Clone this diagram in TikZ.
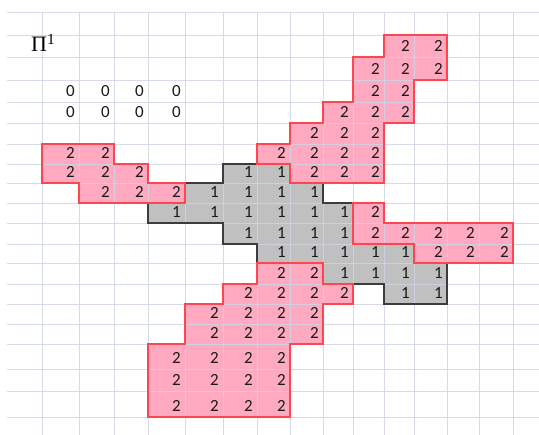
\documentclass[tikz,border=0pt]{standalone}
\usepackage{fontspec}
\setmainfont{Carlito}
\newfontfamily\seriffont{Liberation Serif}
\definecolor{gridc}{RGB}{206,213,228}
\definecolor{pinkf}{RGB}{255,170,192}
\definecolor{redb}{RGB}{255,70,80}
\definecolor{grayf}{RGB}{192,192,192}
\definecolor{grayb}{RGB}{60,60,60}
\begin{document}
\begin{tikzpicture}[x=1pt,y=-1pt,
  num/.style={anchor=base east,font=\fontsize{17}{17}\selectfont,inner sep=0pt,text=black!90},
  gridline/.style={draw=gridc,line width=0.9pt,opacity=0.85},
  pinkarea/.style={fill=pinkf},
  grayarea/.style={fill=grayf},
  pinkedge/.style={draw=redb,line width=1.4pt,line join=miter},
  grayedge/.style={draw=grayb,line width=1.2pt,line join=miter}]
\def\XS{{7,42,79,114,148,185,223,257,290,323,353,384,414,447,479,513,539}}
\def\YS{{12,35,57,80,102,123,144,164,183,203,223,244,263,284,304,324,344,369,391,417}}
\useasboundingbox (0,0) rectangle (539,435);
\fill[white] (0,0) rectangle (539,435);
\foreach \i in {0,...,19}{\foreach \j in {0,...,16}{%
  \pgfmathsetmacro\xx{\XS[\j]}\pgfmathsetmacro\yy{\YS[\i]}%
  \coordinate (p-\i-\j) at (\xx,\yy);}}
% fills
\path[grayarea] (p-7-6) -- (p-7-8) -- (p-8-8) -- (p-8-9) -- (p-9-9) -- (p-9-10) -- (p-11-10) -- (p-11-12) -- (p-12-12) -- (p-12-13) -- (p-14-13) -- (p-14-11) -- (p-13-11) -- (p-13-9) -- (p-12-9) -- (p-12-7) -- (p-11-7) -- (p-11-6) -- (p-10-6) -- (p-10-4) -- (p-9-4) -- (p-9-5) -- (p-8-5) -- (p-8-6) -- cycle;
\path[pinkarea] (p-1-11) -- (p-1-13) -- (p-3-13) -- (p-3-12) -- (p-5-12) -- (p-5-11) -- (p-8-11) -- (p-8-8) -- (p-7-8) -- (p-7-7) -- (p-6-7) -- (p-6-8) -- (p-5-8) -- (p-5-9) -- (p-4-9) -- (p-4-10) -- (p-2-10) -- (p-2-11) -- cycle;
\path[pinkarea] (p-6-1) -- (p-6-3) -- (p-7-3) -- (p-7-4) -- (p-8-4) -- (p-8-5) -- (p-9-5) -- (p-9-2) -- (p-8-2) -- (p-8-1) -- cycle;
\path[pinkarea] (p-9-10) -- (p-9-11) -- (p-10-11) -- (p-10-15) -- (p-12-15) -- (p-12-12) -- (p-11-12) -- (p-11-10) -- cycle;
\path[pinkarea] (p-12-7) -- (p-12-9) -- (p-13-9) -- (p-13-10) -- (p-14-10) -- (p-14-9) -- (p-16-9) -- (p-16-8) -- (p-19-8) -- (p-19-4) -- (p-16-4) -- (p-16-5) -- (p-14-5) -- (p-14-6) -- (p-13-6) -- (p-13-7) -- cycle;
% grid
\coordinate (gl) at (7,0);
\coordinate (gr) at (539,0);
\coordinate (gt) at (0,12);
\coordinate (gb) at (0,435);
\foreach \i in {0,...,19}{\draw[gridline] (gl |- p-\i-0) -- (gr |- p-\i-0);}
\foreach \j in {1,...,15}{\draw[gridline] (p-0-\j) -- (p-0-\j |- gb);}
% outlines
\path[grayedge] (p-7-6) -- (p-7-8) -- (p-8-8) -- (p-8-9) -- (p-9-9) -- (p-9-10) -- (p-11-10) -- (p-11-12) -- (p-12-12) -- (p-12-13) -- (p-14-13) -- (p-14-11) -- (p-13-11) -- (p-13-9) -- (p-12-9) -- (p-12-7) -- (p-11-7) -- (p-11-6) -- (p-10-6) -- (p-10-4) -- (p-9-4) -- (p-9-5) -- (p-8-5) -- (p-8-6) -- cycle;
\path[pinkedge] (p-1-11) -- (p-1-13) -- (p-3-13) -- (p-3-12) -- (p-5-12) -- (p-5-11) -- (p-8-11) -- (p-8-8) -- (p-7-8) -- (p-7-7) -- (p-6-7) -- (p-6-8) -- (p-5-8) -- (p-5-9) -- (p-4-9) -- (p-4-10) -- (p-2-10) -- (p-2-11) -- cycle;
\path[pinkedge] (p-6-1) -- (p-6-3) -- (p-7-3) -- (p-7-4) -- (p-8-4) -- (p-8-5) -- (p-9-5) -- (p-9-2) -- (p-8-2) -- (p-8-1) -- cycle;
\path[pinkedge] (p-9-10) -- (p-9-11) -- (p-10-11) -- (p-10-15) -- (p-12-15) -- (p-12-12) -- (p-11-12) -- (p-11-10) -- cycle;
\path[pinkedge] (p-12-7) -- (p-12-9) -- (p-13-9) -- (p-13-10) -- (p-14-10) -- (p-14-9) -- (p-16-9) -- (p-16-8) -- (p-19-8) -- (p-19-4) -- (p-16-4) -- (p-16-5) -- (p-14-5) -- (p-14-6) -- (p-13-6) -- (p-13-7) -- cycle;
% numbers
\foreach \r/\a/\b/\v in {3/1/4/0, 4/1/4/0,
  1/11/12/2, 2/10/12/2, 3/10/11/2, 4/9/11/2, 5/8/10/2, 6/7/10/2, 7/8/10/2,
  6/1/2/2, 7/1/3/2, 8/2/4/2,
  9/10/10/2, 10/10/14/2, 11/12/14/2,
  12/7/8/2, 13/6/9/2, 14/5/8/2, 15/5/8/2, 16/4/7/2, 17/4/7/2, 18/4/7/2,
  7/6/7/1, 8/5/8/1, 9/4/9/1, 10/6/9/1, 11/7/11/1, 12/9/12/1, 13/11/12/1}{%
  \foreach \c in {\a,...,\b}{%
    \pgfmathtruncatemacro\rr{\r+1}\pgfmathtruncatemacro\cc{\c+1}%
    \node[num] (n-\r-\c) at ([xshift=-4pt,yshift=5pt]p-\rr-\cc) {\v};}}
\node[anchor=base west,inner sep=0pt] (pi) at (31,52) {\seriffont\fontsize{22}{22}\selectfont Π\textsuperscript{1}};
\end{tikzpicture}
\end{document}
